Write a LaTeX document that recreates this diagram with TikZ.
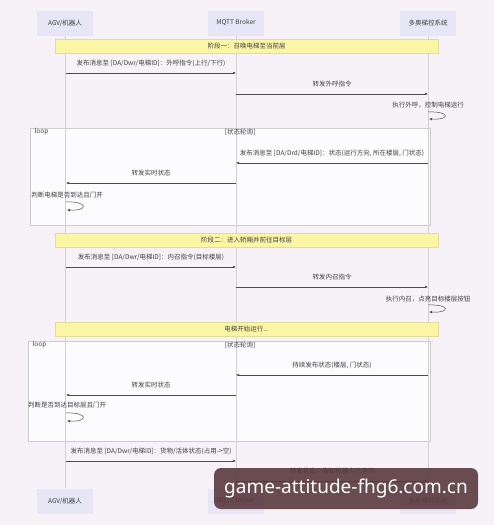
\documentclass[tikz,border=0pt]{standalone}
\usepackage{fontspec}
\newfontfamily\cjk{Noto Sans CJK SC}
\newfontfamily\wm{Noto Sans}
\usetikzlibrary{arrows.meta}
\definecolor{bgc}{HTML}{F6F2F7}
\definecolor{lav}{HTML}{E6E6F6}
\definecolor{notey}{HTML}{FBF6A6}
\definecolor{noteb}{HTML}{E2DC98}
\definecolor{wmc}{HTML}{5A3A3D}

\begin{document}
\begin{tikzpicture}[x=1pt,y=-1pt,font=\cjk\fontsize{6.5}{8}\selectfont,text=black!75,
  actor/.style={fill=lav,minimum width=56pt,minimum height=25pt,inner sep=0pt},
  note/.style={fill=notey,draw=noteb,line width=0.4pt,minimum width=383pt,minimum height=14pt,inner sep=0pt},
  life/.style={draw=black!18,line width=0.5pt},
  frame/.style={draw=black!20,fill=white!70!bgc,line width=0.5pt},
  msg/.style={draw=black!70,line width=0.5pt,-{Latex[length=3pt,width=2.6pt]}}]
\fill[bgc] (0,0) rectangle (494,525);
\useasboundingbox (0,0) rectangle (494,525);
% loop frames
\draw[frame] (30,128) rectangle (430,225);
\draw[frame] (28,341) rectangle (430,441);
% participants
\node[actor] (A) at (65,23) {AGV/机器人};
\node[actor] (B) at (236,23) {MQTT Broker};
\node[actor] (C) at (428,23) {多奥梯控系统};
\node[actor] (A') at (65,501) {AGV/机器人};
\node[actor] (B') at (236,501) {MQTT Broker};
\node[actor] (C') at (428,501) {多奥梯控系统};
\draw[life] (A)--(A') (B)--(B') (C)--(C');
\node[anchor=west] (L1) at (31,132) {loop};
\node (G1) at (240,132) {[状态轮询]};
\node[anchor=west] (L2) at (29,345) {loop};
\node (G2) at (240,345) {[状态轮询]};
% notes
\node[note] (N1) at (246.5,46) {阶段一：召唤电梯至当前层};
\node[note] (N2) at (246.5,240) {阶段二：进入轿厢并前往目标层};
\node[note] (N3) at (246.5,329.5) {电梯开始运行...};
% message rows
\foreach \n/\y in {1/73,2/94,3/163,4/183,5/267,6/287,7/375,8/395,9/461,10/481}{
  \coordinate (a\n) at (66,\y); \coordinate (b\n) at (236,\y); \coordinate (c\n) at (428,\y);}
\draw[msg] (a1)--(b1) node[midway,above=3pt]{发布消息至 [DA/Dwr/电梯ID]：外呼指令(上行/下行)};
\draw[msg] (b2)--(c2) node[midway,above=3pt]{转发外呼指令};
\draw[msg] (c3)--(b3) node[midway,above=3pt]{发布消息至 [DA/Drd/电梯ID]：状态(运行方向, 所在楼层, 门状态)};
\draw[msg] (b4)--(a4) node[midway,above=3pt]{转发实时状态};
\draw[msg] (a5)--(b5) node[midway,above=3pt]{发布消息至 [DA/Dwr/电梯ID]：内召指令(目标楼层)};
\draw[msg] (b6)--(c6) node[midway,above=3pt]{转发内召指令};
\draw[msg] (c7)--(b7) node[midway,above=3pt]{持续发布状态(楼层, 门状态)};
\draw[msg] (b8)--(a8) node[midway,above=3pt]{转发实时状态};
\draw[msg] (a9)--(b9) node[midway,above=3pt]{发布消息至 [DA/Dwr/电梯ID]：货物/活体状态(占用->空)};
\draw[msg] (b10)--(c10) node[midway,above=3pt]{转发状态，告知机器人已离开};
% self calls
\coordinate (s1) at (428,112); \coordinate (t1) at (429,119);
\coordinate (s2) at (66,202); \coordinate (t2) at (67,210);
\coordinate (s3) at (428,305); \coordinate (t3) at (429,312);
\coordinate (s4) at (66,413); \coordinate (t4) at (67,421);
\draw[msg] (s1) .. controls +(22,-1) and +(22,1) .. (t1);
\draw[msg] (s2) .. controls +(22,-1) and +(22,1) .. (t2);
\draw[msg] (s3) .. controls +(22,-1) and +(22,1) .. (t3);
\draw[msg] (s4) .. controls +(22,-1) and +(22,1) .. (t4);
\node (S1) at (428,105) {执行外呼，控制电梯运行};
\node (S2) at (67,195) {判断电梯是否到达且门开};
\node (S3) at (428,299) {执行内召，点亮目标楼层按钮};
\node (S4) at (67,405) {判断是否到达目标层且门开};
% overlay
\node[fill=wmc,fill opacity=0.9,text opacity=1,rounded corners=7pt,minimum width=264pt,minimum height=41pt,
  text=white,font=\wm\fontsize{19}{22}\selectfont] (W) at (346,488.5) {game-attitude-fhg6.com.cn};
\end{tikzpicture}
\end{document}
